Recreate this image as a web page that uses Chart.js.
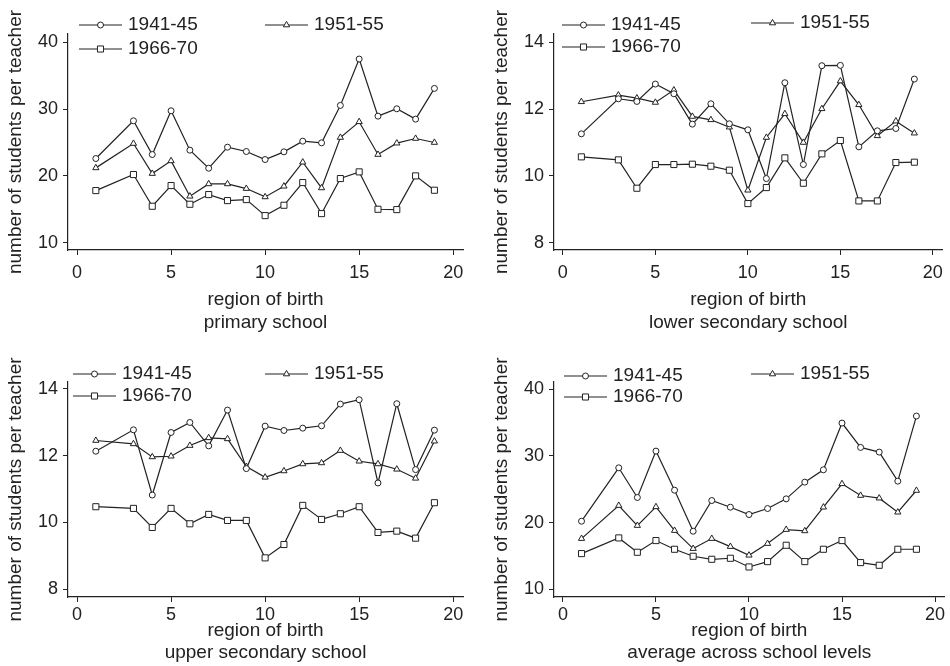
<!DOCTYPE html>
<html>
<head>
<meta charset="utf-8">
<script src="https://cdn.jsdelivr.net/npm/chart.js@4.4.1/dist/chart.umd.min.js"></script>
<style>
  html, body { margin: 0; padding: 0; background: #fff; }
  #wrap { position: relative; width: 950px; height: 666px; }
  #wrap canvas { position: absolute; }
</style>
</head>
<body>
<div id="wrap">
  <canvas id="c-primary"   width="475" height="333" style="left:0;top:0"></canvas>
  <canvas id="c-lower"     width="475" height="333" style="left:475px;top:0"></canvas>
  <canvas id="c-upper"     width="475" height="333" style="left:0;top:333px"></canvas>
  <canvas id="c-average"   width="475" height="333" style="left:475px;top:333px"></canvas>
</div>
<script>
'use strict';

// --- datos ---------------------------------------------------------------

const regions = [1, 3, 4, 5, 6, 7, 8, 9, 10, 11, 12, 13, 14, 15, 16, 17, 18, 19];
const cohorts = ['1941-45', '1951-55', '1966-70'];

const primary41 = [22.6, 28.25, 23.2, 29.75, 23.85, 21.15, 24.3, 23.65, 22.45, 23.6, 25.2, 24.95, 30.55, 37.5, 28.95, 30.05, 28.5, 33.1];
const primary51 = [21.2, 24.85, 20.35, 22.25, 16.95, 18.8, 18.8, 18.1, 16.85, 18.45, 22.05, 18.2, 25.75, 28.1, 23.2, 24.9, 25.6, 25.0];
const primary66 = [17.8, 20.2, 15.45, 18.55, 15.75, 17.2, 16.3, 16.45, 14.05, 15.6, 19.0, 14.35, 19.6, 20.6, 15.0, 14.95, 20.0, 17.85];

const lower41 = [11.26, 12.31, 12.23, 12.75, 12.46, 11.55, 12.16, 11.56, 11.38, 9.92, 12.79, 10.34, 13.3, 13.31, 10.87, 11.35, 11.42, 12.9];
const lower51 = [12.22, 12.42, 12.33, 12.2, 12.57, 11.78, 11.68, 11.46, 9.57, 11.15, 11.86, 11.0, 12.01, 12.84, 12.13, 11.2, 11.64, 11.28];
const lower66 = [10.57, 10.48, 9.63, 10.34, 10.34, 10.35, 10.29, 10.17, 9.17, 9.65, 10.54, 9.78, 10.66, 11.06, 9.25, 9.25, 10.4, 10.41];

const upper41 = [12.13, 12.77, 10.82, 12.69, 12.99, 12.29, 13.36, 11.61, 12.88, 12.75, 12.82, 12.89, 13.54, 13.67, 11.18, 13.55, 11.58, 12.76];
const upper51 = [12.45, 12.35, 11.96, 11.98, 12.3, 12.53, 12.5, 11.67, 11.35, 11.54, 11.75, 11.78, 12.15, 11.83, 11.75, 11.59, 11.32, 12.43];
const upper66 = [10.47, 10.42, 9.85, 10.42, 9.96, 10.24, 10.06, 10.06, 8.94, 9.34, 10.51, 10.09, 10.26, 10.47, 9.7, 9.74, 9.53, 10.59];

const average41 = [20.2, 28.2, 23.75, 30.7, 24.85, 18.7, 23.3, 22.3, 21.2, 22.1, 23.55, 26.05, 27.9, 34.9, 31.25, 30.55, 26.2, 35.95];
const average51 = [17.6, 22.55, 19.55, 22.35, 18.8, 16.1, 17.6, 16.4, 15.1, 16.85, 18.95, 18.75, 22.3, 25.8, 24.05, 23.65, 21.55, 24.8];
const average66 = [15.35, 17.7, 15.55, 17.3, 16.0, 14.95, 14.5, 14.65, 13.35, 14.15, 16.6, 14.15, 16.0, 17.3, 14.0, 13.6, 16.0, 16.0];

const xTicks = [0, 5, 10, 15, 20];
const yTicksWide = [10, 20, 30, 40];
const yTicksNarrow = [8, 10, 12, 14];

// --- estilo ---------------------------------------------------------------

const INK = '#222';
const FONT = "'Liberation Sans', Arial, Helvetica, sans-serif";
const markers = [
  { style: 'circle',   radius: 3 },
  { style: 'triangle', radius: 3.6 },
  { style: 'rect',     radius: 4.3 },
];

Chart.defaults.font.family = FONT;
Chart.defaults.color = INK;

// leyenda estilo Stata: dos columnas, linea + marcador + texto
const stataLegend = {
  id: 'stataLegend',
  afterDraw(chart, args, opts) {
    const ctx = chart.ctx;
    ctx.save();
    opts.items.forEach(function(it, i) {
      const m = markers[i];
      ctx.strokeStyle = INK;
      ctx.lineWidth = 1.2;
      ctx.beginPath();
      ctx.moveTo(it.x, it.y);
      ctx.lineTo(it.x + 43, it.y);
      ctx.stroke();
      ctx.fillStyle = '#fff';
      ctx.lineWidth = 1;
      Chart.helpers.drawPoint(ctx, { pointStyle: m.style, radius: m.radius, borderWidth: 1, rotation: 0 }, it.x + 21.5, it.y);
      ctx.fillStyle = INK;
      ctx.font = '19px ' + FONT;
      ctx.textBaseline = 'middle';
      ctx.textAlign = 'left';
      ctx.fillText(cohorts[i], it.x + 49, it.y);
    });
    ctx.restore();
  }
};

function makePanel(id, p) {
  const datasets = p.series.map(function(vals, i) {
    return {
      label: cohorts[i],
      data: regions.map(function(r, k) { return { x: r, y: vals[k] }; }),
      borderColor: INK,
      borderWidth: 1.2,
      tension: 0,
      pointStyle: markers[i].style,
      pointRadius: markers[i].radius,
      pointBackgroundColor: '#fff',
      pointBorderColor: INK,
      pointBorderWidth: 1,
    };
  });

  return new Chart(document.getElementById(id), {
    type: 'line',
    data: { datasets: datasets },
    plugins: [stataLegend],
    options: {
      responsive: false,
      animation: false,
      events: [],
      layout: { padding: { left: 0, top: p.padTop, right: p.padRight, bottom: 0 } },
      plugins: {
        legend: { display: false },
        tooltip: { enabled: false },
        stataLegend: { items: p.legend },
      },
      scales: {
        x: {
          type: 'linear',
          min: -0.48,
          max: 20.52,
          afterBuildTicks: function(s) { s.ticks = xTicks.map(function(v) { return { value: v }; }); },
          afterFit: function(s) { s.height = p.xHeight; },
          grid: { drawOnChartArea: false, drawTicks: true, tickLength: 5, color: INK },
          border: { display: true, color: INK, width: 1.2 },
          ticks: { font: { size: 18 }, padding: p.xTickPad, color: INK, maxRotation: 0 },
          title: {
            display: true,
            text: ['region of birth', p.title],
            font: { size: 19, lineHeight: p.titleLH },
            color: INK,
            padding: { top: 0, bottom: p.xTitlePad },
          },
        },
        y: {
          type: 'linear',
          min: p.yMin,
          max: p.yMax,
          afterBuildTicks: function(s) { s.ticks = p.yTicks.map(function(v) { return { value: v }; }); },
          afterFit: function(s) { s.width = p.yWidth; },
          grid: { drawOnChartArea: false, drawTicks: true, tickLength: 5, color: INK },
          border: { display: true, color: INK, width: 1.2 },
          ticks: { font: { size: 18 }, padding: 5, color: INK },
          title: {
            display: true,
            text: 'number of students per teacher',
            font: { size: 19, lineHeight: 1.2 },
            color: INK,
            padding: { top: p.yTitlePad, bottom: 0 },
          },
        },
      },
    },
  });
}

makePanel('c-primary', {
  series: [primary41, primary51, primary66], title: 'primary school',
  yMin: 8.9, yMax: 41.25, yTicks: yTicksWide,
  yWidth: 68, padTop: 34, padRight: 12, xHeight: 83,
  xTickPad: 7, titleLH: 23 / 19, xTitlePad: -1, yTitlePad: 4.5,
  legend: [{ x: 79, y: 25 }, { x: 265, y: 25 }, { x: 79, y: 49 }],
});

makePanel('c-lower', {
  series: [lower41, lower51, lower66], title: 'lower secondary school',
  yMin: 7.78, yMax: 14.25, yTicks: yTicksNarrow,
  yWidth: 79, padTop: 34, padRight: 2, xHeight: 83,
  xTickPad: 7, titleLH: 23 / 19, xTitlePad: -1, yTitlePad: 15.5,
  legend: [{ x: 87, y: 25 }, { x: 276, y: 23 }, { x: 87, y: 47 }],
});

makePanel('c-upper', {
  series: [upper41, upper51, upper66], title: 'upper secondary school',
  yMin: 7.77, yMax: 14.2, yTicks: yTicksNarrow,
  yWidth: 68, padTop: 49, padRight: 12, xHeight: 69,
  xTickPad: 2, titleLH: 22 / 19, xTitlePad: 2, yTitlePad: 4.5,
  legend: [{ x: 73, y: 41 }, { x: 265, y: 41 }, { x: 73, y: 63 }],
});

makePanel('c-average', {
  series: [average41, average51, average66], title: 'average across school levels',
  yMin: 8.85, yMax: 41.05, yTicks: yTicksWide,
  yWidth: 79, padTop: 49, padRight: 2, xHeight: 69,
  xTickPad: 2, titleLH: 22 / 19, xTitlePad: 2, yTitlePad: 15.5,
  legend: [{ x: 89, y: 43 }, { x: 276, y: 41 }, { x: 89, y: 64 }],
});
</script>
</body>
</html>
